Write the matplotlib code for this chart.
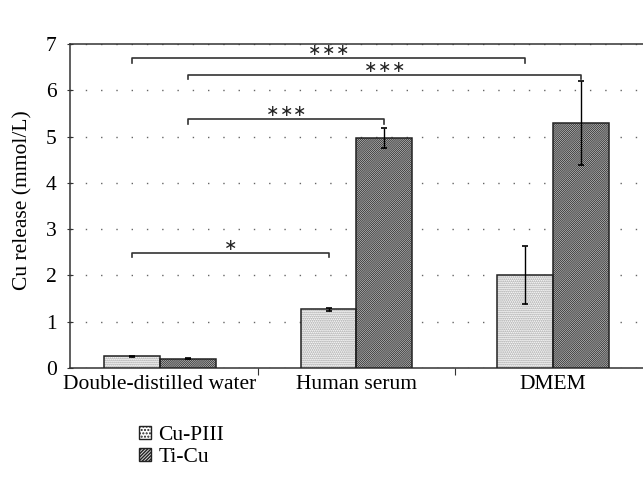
import matplotlib
matplotlib.use("Agg")
import matplotlib.pyplot as plt
import numpy as np
from matplotlib.patches import Patch

plt.rcParams['font.family'] = ['Liberation Serif', 'DejaVu Serif']

categories = ["Double-distilled water", "Human serum", "DMEM"]
series_names = ["Cu-PIII", "Ti-Cu"]
cu_piii = [0.25, 1.27, 2.01]
cu_piii_err = [0.02, 0.03, 0.62]
ti_cu = [0.20, 4.97, 5.29]
ti_cu_err = [0.01, 0.21, 0.90]

# significance brackets: (group 1, series 1, group 2, series 2, height, number of stars)
brackets = [
    (0, 0, 2, 0, 6.69, 3),
    (0, 1, 2, 1, 6.34, 3),
    (0, 1, 1, 1, 5.37, 3),
    (0, 0, 1, 0, 2.48, 1),
]

FS = 15.5
fig = plt.figure(figsize=(6.43, 4.86), dpi=100)
ax = fig.add_axes([70/643, 1-368/486, 573/643, (368-44)/486])

x = np.arange(len(categories))
w = 0.284
h1, h2 = '........', '/' * 16
dot_col, line_col = '#9a9a9a', '#333333'

with plt.rc_context({'hatch.linewidth': 0.9}):
    ax.bar(x - w/2, cu_piii, w, color='white', edgecolor=dot_col, linewidth=0,
           hatch=h1, zorder=3)
with plt.rc_context({'hatch.linewidth': 0.65}):
    ax.bar(x + w/2, ti_cu, w, color='#dcdcdc', edgecolor=line_col, linewidth=0,
           hatch=h2, zorder=3)
ax.bar(x - w/2, cu_piii, w, fill=False, edgecolor='#222222', linewidth=1.1, zorder=3.5)
ax.bar(x + w/2, ti_cu, w, fill=False, edgecolor='#222222', linewidth=1.1, zorder=3.5)

ax.errorbar(x - w/2, cu_piii, yerr=cu_piii_err, fmt='none', ecolor='black',
            elinewidth=1.0, capsize=2.5, capthick=1.2, zorder=4)
ax.errorbar(x + w/2, ti_cu, yerr=ti_cu_err, fmt='none', ecolor='black',
            elinewidth=1.0, capsize=2.5, capthick=1.2, zorder=4)

ax.set_xlim(-0.458, 2.458)
ax.set_ylim(0, 7)
ax.set_yticks(range(0, 8))
ax.yaxis.grid(True, linestyle=(0, (1, 10)), color='#666666', linewidth=1.0)
ax.set_axisbelow(True)

ax.set_xticks([0.5, 1.5])
ax.set_xticklabels([])
ax.set_xticks(x, minor=True)
ax.set_xticklabels(categories, minor=True, fontsize=FS)
ax.tick_params(axis='x', which='minor', length=0, pad=5)
ax.tick_params(axis='x', which='major', length=5, direction='out', color='#333333')
ax.tick_params(axis='y', labelsize=FS, length=4, direction='inout', pad=7.5, color='#333333')
ax.set_ylabel("Cu release (mmol/L)", fontsize=FS)
ax.yaxis.set_label_coords(-38/573, (368-200)/324)

for s in ['top', 'left', 'bottom']:
    ax.spines[s].set_color('#333333')
    ax.spines[s].set_linewidth(1.1)
ax.spines['right'].set_visible(False)

for g1, s1, g2, s2, h, n in brackets:
    xa = g1 + (s1 - 0.5) * w
    xb = g2 + (s2 - 0.5) * w
    ax.plot([xa, xa, xb, xb], [h - 0.09, h, h, h - 0.09], color='#333333', lw=1.2,
            zorder=5, clip_on=False)
    xm = (xa + xb) / 2
    for k in range(n):
        off = (k - (n - 1) / 2) * 10
        ax.annotate("\u2217", xy=(xm, h), xytext=(off, 0), textcoords='offset points',
                    ha='center', va='bottom', fontsize=11.5, family='DejaVu Sans',
                    color='#222222')

with plt.rc_context({'hatch.linewidth': 0.7}):
    handles = [Patch(facecolor='white', edgecolor='#222222', hatch='.....', label=series_names[0]),
               Patch(facecolor='#d8d8d8', edgecolor='#222222', hatch='/' * 10, label=series_names[1])]
fig.legend(handles=handles, loc='upper left', bbox_to_anchor=(139/643, 1-426/486),
           frameon=False, fontsize=FS, handlelength=0.55, handleheight=0.55,
           handletextpad=0.35, labelspacing=0.15, borderaxespad=0, borderpad=0)

fig.savefig("out.png", dpi=100)
